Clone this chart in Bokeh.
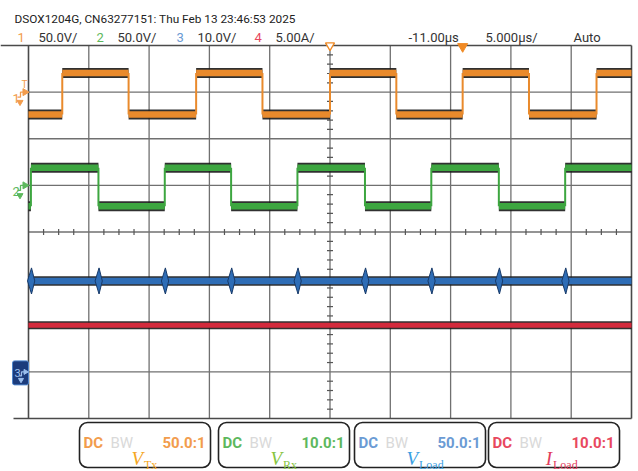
import numpy as np
from bokeh.plotting import figure
from bokeh.core.properties import value
from bokeh.embed import file_html
from bokeh.resources import INLINE

# ---------------- data ----------------
header_title = "DSOX1204G, CN63277151: Thu Feb 13 23:46:53 2025"
channel_ids = ["1", "2", "3", "4"]
channel_scale_text = ["50.0V/", "50.0V/", "10.0V/", "5.00A/"]
units_per_div = [50.0, 50.0, 10.0, 5.0]
ground_div = [3.0, 1.0, -3.0, -3.0]          # ground reference position (divisions)
delay_text = "-11.00µs"
timebase_text = "5.000µs/"
trigger_mode = "Auto"
time_per_div = 5.0                            # µs / div
delay_us = -11.0                              # time at screen centre (µs)

# V_Tx (channel 1) square wave: transition times (µs), levels (V)
tx_edges_us = [-33.2, -27.7, -22.1, -16.6, -11.0, -5.5, 0.0, 5.5, 11.1]
tx_high_v, tx_low_v = 20.5, -24.0
# V_Rx (channel 2)
rx_edges_us = [-35.8, -30.2, -24.7, -19.2, -13.7, -8.1, -2.6, 3.0, 8.5]
rx_high_v, rx_low_v = 18.8, -22.5
# V_Load (channel 3): DC level with ringing spikes at the Rx transitions
load_v = 19.5
load_spike_v = 2.8
# I_Load (channel 4)
load_i = 5.0

probe_ratio = ["50.0:1", "10.0:1", "50.0:1", "10.0:1"]
label_main = ["V", "V", "V", "I"]
label_sub = ["Tx", "Rx", "Load", "Load"]

trace_colors = ["#E98A2C", "#3DA640", "#2E6DB6", "#D42A3C"]
text_colors = ["#F29C4C", "#5DB85D", "#6B9BD4", "#E8485E"]
label_colors = ["#F5A623", "#86C440", "#3A9EE2", "#E23C5C"]

# ---------------- layout geometry ----------------
W, H = 638, 471
G_L, G_R, G_T, G_B = 28, 631, 45, 418     # graticule edges (px)
PX_US = (G_R - G_L) / (10 * time_per_div)
PX_DIV = (G_B - G_T) / 8
t_left = delay_us - 5 * time_per_div
t_right = delay_us + 5 * time_per_div
x_start = t_left - G_L / PX_US
x_end = x_start + W / PX_US
y_top = 4 + G_T / PX_DIV
y_bot = y_top - H / PX_DIV


def X(px):
    return x_start + px / PX_US


def Y(py):
    return y_top - py / PX_DIV


p = figure(width=W, height=H, x_range=(x_start, x_end), y_range=(y_bot, y_top),
           output_backend="svg", toolbar_location=None,
           x_axis_location=None, y_axis_location=None, min_border=0)
p.outline_line_color = None
p.xgrid.visible = False
p.ygrid.visible = False
p.background_fill_color = "white"
p.border_fill_color = "white"

SANS = value("Liberation Sans Narrow, Roboto, sans-serif")
SERIF = value("Liberation Serif, DejaVu Serif, serif")

# ---------------- graticule ----------------
vx = [t_left + k * time_per_div for k in range(11)]
p.segment(x0=vx[1:-1], y0=[-4] * 9, x1=vx[1:-1], y1=[4] * 9, line_color="#707070", line_width=1.3)
hy = list(range(-3, 4))
p.segment(x0=[t_left] * 7, y0=hy, x1=[t_right] * 7, y1=hy, line_color="#707070", line_width=1.3)
# border
p.segment(x0=[X(0), X(13), t_left, t_right], y0=[4, -4, -4, -4],
          x1=[t_right, t_right, t_left, t_right], y1=[4, -4, 4, 4],
          line_color="#4a4a4a", line_width=1.6)
# minor ticks on centre lines
mt = [t_left + k * time_per_div / 4 for k in range(41) if k % 4 != 0]
p.segment(x0=mt, y0=[-3 / PX_DIV] * len(mt), x1=mt, y1=[3 / PX_DIV] * len(mt),
          line_color="#555555", line_width=1.2)
my = [-4 + k * 0.2 for k in range(41) if k % 5 != 0]
p.segment(x0=[delay_us - 3 / PX_US] * len(my), y0=my, x1=[delay_us + 3 / PX_US] * len(my), y1=my,
          line_color="#555555", line_width=1.2)


# ---------------- traces ----------------
def square_trace(edges, hi, lo, ch, color, start_high=False, wide=10, thin=6.5):
    g, s = ground_div[ch], units_per_div[ch]
    bounds = [t_left] + edges + [t_right]
    x0, x1, yy = [], [], []
    high = start_high
    for a, b in zip(bounds[:-1], bounds[1:]):
        x0.append(a)
        x1.append(b)
        yy.append(g + (hi if high else lo) / s)
        high = not high
    p.segment(x0=x0, y0=yy, x1=x1, y1=yy, line_color="#1a1a1a", line_width=wide, line_alpha=0.9)
    p.segment(x0=x0, y0=yy, x1=x1, y1=yy, line_color=color, line_width=thin)
    ey0 = [g + lo / s] * len(edges)
    ey1 = [g + hi / s] * len(edges)
    p.segment(x0=edges, y0=ey0, x1=edges, y1=ey1, line_color=color, line_width=2)


square_trace(tx_edges_us, tx_high_v, tx_low_v, 0, trace_colors[0])
square_trace(rx_edges_us, rx_high_v, rx_low_v, 1, trace_colors[1])

# channel 3 (V_Load)
y3 = ground_div[2] + load_v / units_per_div[2]
p.segment(x0=[t_left], y0=[y3], x1=[t_right], y1=[y3], line_color="#1a1a1a", line_width=9.5, line_alpha=0.9)
p.segment(x0=[t_left], y0=[y3], x1=[t_right], y1=[y3], line_color=trace_colors[2], line_width=6.5)
hs = load_spike_v / units_per_div[2]
sx = [[t - 0.28, t + 0.05, t + 0.32, t + 0.05] for t in rx_edges_us]
sy = [[y3, y3 + hs, y3, y3 - hs] for _ in rx_edges_us]
p.patches(xs=sx, ys=sy, fill_color=trace_colors[2], line_color="#173a6a", line_width=1)

# channel 4 (I_Load)
y4 = ground_div[3] + load_i / units_per_div[3]
p.segment(x0=[t_left], y0=[y4], x1=[t_right], y1=[y4], line_color="#1a1a1a", line_width=8, line_alpha=0.9)
p.segment(x0=[t_left], y0=[y4], x1=[t_right], y1=[y4], line_color=trace_colors[3], line_width=5)

# ---------------- trigger / reference markers ----------------
p.scatter(x=[0.0], y=[Y(46)], marker="inverted_triangle", size=10,
          fill_color="#F08A24", line_color="#F08A24")
p.scatter(x=[delay_us], y=[Y(45)], marker="inverted_triangle", size=9,
          fill_color="white", line_color="#F08A24", line_width=1.3)

# ---------------- channel ground markers ----------------
for ch in (0, 1):
    gy = ground_div[ch]
    c = text_colors[ch]
    p.text(x=[X(12)], y=[gy - 6 / PX_DIV], text=[channel_ids[ch]], text_color=c,
           text_font=SANS, text_font_size="13px", text_baseline="alphabetic")
    p.line(x=[X(17), X(20), X(20), X(23)], y=[gy - 5 / PX_DIV, gy - 5 / PX_DIV, gy, gy],
           line_color=c, line_width=1.3)
    p.scatter(x=[X(24.5)], y=[gy], marker="triangle", angle=-np.pi / 2, size=7,
              fill_color=c, line_color=c)
    p.scatter(x=[X(19.5)], y=[gy - 10 / PX_DIV], marker="inverted_triangle", size=6,
              fill_color=c, line_color=c)
p.text(x=[X(24)], y=[ground_div[0] + 8 / PX_DIV], text=["T"], text_color=text_colors[0],
       text_font=SANS, text_font_size="10px", text_align="center", text_baseline="alphabetic")

# channel 3 marker box
g3 = ground_div[2]
p.quad(left=[X(12)], right=[X(28)], top=[g3 + 11 / PX_DIV], bottom=[g3 - 13 / PX_DIV],
       fill_color="#1C3C7C", line_color="#4F86CC", line_width=1, border_radius=2)
p.text(x=[X(14)], y=[g3 - 1 / PX_DIV], text=[channel_ids[2]], text_color="#9CC0EE",
       text_font=SANS, text_font_size="11px", text_baseline="alphabetic")
p.line(x=[X(19), X(21), X(21), X(24)], y=[g3 - 4 / PX_DIV, g3 - 4 / PX_DIV, g3, g3],
       line_color="#9CC0EE", line_width=1.2)
p.scatter(x=[X(25)], y=[g3], marker="triangle", angle=-np.pi / 2, size=5,
          fill_color="#9CC0EE", line_color="#9CC0EE")
p.scatter(x=[X(20.5)], y=[g3 - 8 / PX_DIV], marker="inverted_triangle", size=5,
          fill_color="#9CC0EE", line_color="#9CC0EE")

# ---------------- header ----------------
p.text(x=[X(14)], y=[Y(18.5)], text=[header_title], text_color="#222222",
       text_font=SANS, text_font_size="11.8px", text_baseline="alphabetic")
id_x = [17, 96, 176, 254]
sc_x = [38, 117, 197, 275]
p.text(x=[X(v) for v in id_x], y=[Y(37)] * 4, text=channel_ids, text_color=text_colors,
       text_font=SANS, text_font_size="13px", text_baseline="alphabetic")
p.text(x=[X(v) for v in sc_x], y=[Y(37)] * 4, text=channel_scale_text, text_color="#333333",
       text_font=SANS, text_font_size="13px", text_baseline="alphabetic")
p.text(x=[X(408), X(485), X(573)], y=[Y(37)] * 3, text=[delay_text, timebase_text, trigger_mode],
       text_color="#333333", text_font=SANS, text_font_size="13px", text_baseline="alphabetic")

# ---------------- channel info boxes ----------------
box_l = [79, 218, 354, 488]
box_w = 131
bl = [X(v) for v in box_l]
br = [X(v + box_w) for v in box_l]
p.quad(left=bl, right=br, top=[Y(422)] * 4, bottom=[Y(467)] * 4, fill_color="white",
       line_color="#222222", line_width=1.6, border_radius=8)
p.text(x=[X(v + 4) for v in box_l], y=[Y(442)] * 4, text=["DC"] * 4, text_color=text_colors,
       text_font=SANS, text_font_size="15px", text_font_style="bold", text_baseline="alphabetic")
p.text(x=[X(v + 31) for v in box_l], y=[Y(442)] * 4, text=["BW"] * 4, text_color="#D9D9D9",
       text_font=SANS, text_font_size="15px", text_baseline="alphabetic")
p.text(x=[X(v + box_w - 5) for v in box_l], y=[Y(442)] * 4, text=probe_ratio, text_color=text_colors,
       text_font=SANS, text_font_size="15px", text_font_style="bold", text_align="right",
       text_baseline="alphabetic")
cx = [v + box_w / 2 for v in box_l]
p.text(x=[X(c - 2) for c in cx], y=[Y(458)] * 4, text=label_main, text_color=label_colors,
       text_font=SERIF, text_font_size="19px", text_font_style="italic", text_align="right",
       text_baseline="alphabetic")
p.text(x=[X(c - 1) for c in cx], y=[Y(464)] * 4, text=label_sub, text_color=label_colors,
       text_font=SERIF, text_font_size="12px", text_baseline="alphabetic")

open("out.html", "w").write(file_html(p, INLINE))
